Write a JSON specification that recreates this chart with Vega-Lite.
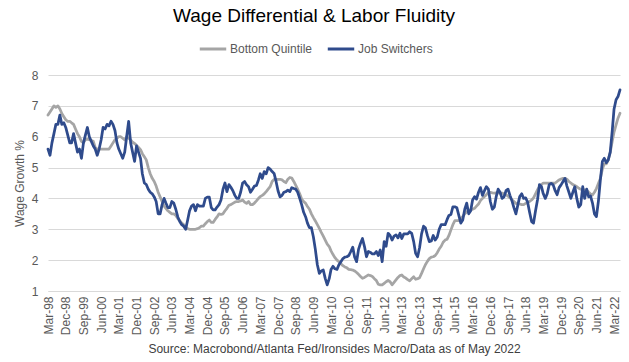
{
  "$schema": "https://vega.github.io/schema/vega-lite/v6.json",
  "width": 572,
  "height": 216,
  "autosize": {"type": "none"},
  "padding": {"left": 48, "top": 75, "right": 9, "bottom": 71},
  "background": "white",
  "config": {"font": "Liberation Sans", "view": {"stroke": null}},
  "title": {"text": "Wage Differential & Labor Fluidity", "fontSize": 19, "fontWeight": "normal", "color": "#000000", "anchor": "middle", "frame": "group", "dx": -20, "offset": 8},
  "data": {"values": [
    {"d":"1998-03","bq":6.7,"js":5.6},{"d":"1998-04","bq":6.8,"js":5.4},{"d":"1998-05","bq":6.9,"js":5.8},{"d":"1998-06","bq":7.0,"js":6.1},{"d":"1998-07","bq":6.95,"js":6.4},{"d":"1998-08","bq":7.0,"js":6.4},{"d":"1998-09","bq":6.9,"js":6.7},{"d":"1998-10","bq":6.75,"js":6.4},{"d":"1998-11","bq":6.65,"js":6.45},{"d":"1998-12","bq":6.55,"js":6.3},
    {"d":"1999-01","bq":6.5,"js":6.05},{"d":"1999-02","bq":6.5,"js":5.8},{"d":"1999-03","bq":6.45,"js":5.8},{"d":"1999-04","bq":6.4,"js":6.1},{"d":"1999-05","bq":6.25,"js":5.8},{"d":"1999-06","bq":6.1,"js":5.5},{"d":"1999-07","bq":6.0,"js":5.6},{"d":"1999-08","bq":5.85,"js":5.3},{"d":"1999-09","bq":5.8,"js":5.8},{"d":"1999-10","bq":5.9,"js":6.05},{"d":"1999-11","bq":5.92,"js":6.3},{"d":"1999-12","bq":5.9,"js":6.0},
    {"d":"2000-01","bq":5.88,"js":5.85},{"d":"2000-02","bq":5.85,"js":5.7},{"d":"2000-03","bq":5.65,"js":5.6},{"d":"2000-04","bq":5.6,"js":5.4},{"d":"2000-05","bq":5.6,"js":5.6},{"d":"2000-06","bq":5.6,"js":5.9},{"d":"2000-07","bq":5.6,"js":6.3},{"d":"2000-08","bq":5.6,"js":6.25},{"d":"2000-09","bq":5.6,"js":6.4},{"d":"2000-10","bq":5.6,"js":6.35},{"d":"2000-11","bq":5.7,"js":6.5},{"d":"2000-12","bq":5.8,"js":6.4},
    {"d":"2001-01","bq":5.9,"js":6.2},{"d":"2001-02","bq":5.95,"js":5.8},{"d":"2001-03","bq":6.0,"js":5.6},{"d":"2001-04","bq":6.0,"js":5.45},{"d":"2001-05","bq":5.95,"js":5.3},{"d":"2001-06","bq":5.9,"js":5.5},{"d":"2001-07","bq":6.0,"js":6.0},{"d":"2001-08","bq":5.95,"js":6.5},{"d":"2001-09","bq":5.9,"js":5.8},{"d":"2001-10","bq":5.82,"js":5.5},{"d":"2001-11","bq":5.78,"js":5.2},{"d":"2001-12","bq":5.72,"js":5.7},
    {"d":"2002-01","bq":5.65,"js":5.5},{"d":"2002-02","bq":5.58,"js":5.3},{"d":"2002-03","bq":5.45,"js":4.8},{"d":"2002-04","bq":5.35,"js":4.5},{"d":"2002-05","bq":5.25,"js":4.45},{"d":"2002-06","bq":5.0,"js":4.3},{"d":"2002-07","bq":4.8,"js":4.2},{"d":"2002-08","bq":4.65,"js":4.15},{"d":"2002-09","bq":4.55,"js":4.05},{"d":"2002-10","bq":4.4,"js":3.9},{"d":"2002-11","bq":4.2,"js":3.5},{"d":"2002-12","bq":4.05,"js":3.5},
    {"d":"2003-01","bq":3.9,"js":3.8},{"d":"2003-02","bq":3.75,"js":4.0},{"d":"2003-03","bq":3.68,"js":3.85},{"d":"2003-04","bq":3.6,"js":3.7},{"d":"2003-05","bq":3.55,"js":3.7},{"d":"2003-06","bq":3.5,"js":3.9},{"d":"2003-07","bq":3.5,"js":3.85},{"d":"2003-08","bq":3.45,"js":3.65},{"d":"2003-09","bq":3.35,"js":3.4},{"d":"2003-10","bq":3.28,"js":3.25},{"d":"2003-11","bq":3.2,"js":3.15},{"d":"2003-12","bq":3.15,"js":3.1},
    {"d":"2004-01","bq":3.08,"js":3.0},{"d":"2004-02","bq":3.02,"js":3.3},{"d":"2004-03","bq":3.0,"js":3.6},{"d":"2004-04","bq":3.0,"js":3.75},{"d":"2004-05","bq":3.0,"js":3.8},{"d":"2004-06","bq":3.0,"js":3.6},{"d":"2004-07","bq":3.02,"js":3.8},{"d":"2004-08","bq":3.05,"js":3.75},{"d":"2004-09","bq":3.1,"js":3.75},{"d":"2004-10","bq":3.1,"js":3.75},{"d":"2004-11","bq":3.18,"js":4.0},{"d":"2004-12","bq":3.25,"js":4.04},
    {"d":"2005-01","bq":3.3,"js":4.04},{"d":"2005-02","bq":3.22,"js":3.7},{"d":"2005-03","bq":3.22,"js":3.63},{"d":"2005-04","bq":3.32,"js":3.63},{"d":"2005-05","bq":3.4,"js":3.72},{"d":"2005-06","bq":3.5,"js":3.8},{"d":"2005-07","bq":3.48,"js":3.95},{"d":"2005-08","bq":3.5,"js":4.3},{"d":"2005-09","bq":3.6,"js":4.5},{"d":"2005-10","bq":3.68,"js":4.22},{"d":"2005-11","bq":3.78,"js":4.45},{"d":"2005-12","bq":3.8,"js":4.36},
    {"d":"2006-01","bq":3.84,"js":4.25},{"d":"2006-02","bq":3.88,"js":4.1},{"d":"2006-03","bq":3.9,"js":4.0},{"d":"2006-04","bq":3.9,"js":4.0},{"d":"2006-05","bq":3.92,"js":4.2},{"d":"2006-06","bq":3.95,"js":4.5},{"d":"2006-07","bq":3.88,"js":4.55},{"d":"2006-08","bq":3.84,"js":4.44},{"d":"2006-09","bq":3.9,"js":4.38},{"d":"2006-10","bq":3.8,"js":4.2},{"d":"2006-11","bq":3.8,"js":4.3},{"d":"2006-12","bq":3.85,"js":4.4},
    {"d":"2007-01","bq":3.92,"js":4.42},{"d":"2007-02","bq":4.0,"js":4.6},{"d":"2007-03","bq":4.06,"js":4.8},{"d":"2007-04","bq":4.1,"js":4.65},{"d":"2007-05","bq":4.15,"js":4.87},{"d":"2007-06","bq":4.22,"js":4.8},{"d":"2007-07","bq":4.3,"js":5.0},{"d":"2007-08","bq":4.38,"js":4.95},{"d":"2007-09","bq":4.55,"js":4.87},{"d":"2007-10","bq":4.62,"js":4.81},{"d":"2007-11","bq":4.62,"js":4.55},{"d":"2007-12","bq":4.62,"js":4.25},
    {"d":"2008-01","bq":4.62,"js":4.05},{"d":"2008-02","bq":4.6,"js":4.1},{"d":"2008-03","bq":4.55,"js":4.2},{"d":"2008-04","bq":4.51,"js":4.22},{"d":"2008-05","bq":4.62,"js":4.27},{"d":"2008-06","bq":4.68,"js":4.22},{"d":"2008-07","bq":4.66,"js":4.35},{"d":"2008-08","bq":4.55,"js":4.32},{"d":"2008-09","bq":4.42,"js":4.3},{"d":"2008-10","bq":4.3,"js":4.2},{"d":"2008-11","bq":4.15,"js":4.0},{"d":"2008-12","bq":3.98,"js":3.8},
    {"d":"2009-01","bq":3.9,"js":3.55},{"d":"2009-02","bq":3.84,"js":3.4},{"d":"2009-03","bq":3.74,"js":3.2},{"d":"2009-04","bq":3.65,"js":3.05},{"d":"2009-05","bq":3.5,"js":3.05},{"d":"2009-06","bq":3.38,"js":2.75},{"d":"2009-07","bq":3.27,"js":2.35},{"d":"2009-08","bq":3.15,"js":1.85},{"d":"2009-09","bq":3.03,"js":1.57},{"d":"2009-10","bq":2.9,"js":1.65},{"d":"2009-11","bq":2.78,"js":1.68},{"d":"2009-12","bq":2.65,"js":1.41},
    {"d":"2010-01","bq":2.52,"js":1.2},{"d":"2010-02","bq":2.44,"js":1.4},{"d":"2010-03","bq":2.3,"js":1.7},{"d":"2010-04","bq":2.18,"js":1.8},{"d":"2010-05","bq":2.08,"js":1.72},{"d":"2010-06","bq":2.0,"js":1.7},{"d":"2010-07","bq":1.95,"js":1.85},{"d":"2010-08","bq":1.88,"js":1.95},{"d":"2010-09","bq":1.82,"js":2.05},{"d":"2010-10","bq":1.78,"js":2.1},{"d":"2010-11","bq":1.75,"js":2.11},{"d":"2010-12","bq":1.7,"js":2.15},
    {"d":"2011-01","bq":1.69,"js":2.28},{"d":"2011-02","bq":1.68,"js":2.42},{"d":"2011-03","bq":1.65,"js":2.1},{"d":"2011-04","bq":1.6,"js":1.95},{"d":"2011-05","bq":1.54,"js":2.35},{"d":"2011-06","bq":1.47,"js":2.55},{"d":"2011-07","bq":1.41,"js":2.7},{"d":"2011-08","bq":1.44,"js":2.44},{"d":"2011-09","bq":1.48,"js":2.11},{"d":"2011-10","bq":1.52,"js":2.28},{"d":"2011-11","bq":1.5,"js":2.25},{"d":"2011-12","bq":1.47,"js":2.2},
    {"d":"2012-01","bq":1.4,"js":2.2},{"d":"2012-02","bq":1.34,"js":2.28},{"d":"2012-03","bq":1.22,"js":2.15},{"d":"2012-04","bq":1.2,"js":2.33},{"d":"2012-05","bq":1.2,"js":1.95},{"d":"2012-06","bq":1.25,"js":2.6},{"d":"2012-07","bq":1.3,"js":2.45},{"d":"2012-08","bq":1.34,"js":2.87},{"d":"2012-09","bq":1.3,"js":2.8},{"d":"2012-10","bq":1.2,"js":2.65},{"d":"2012-11","bq":1.28,"js":2.78},{"d":"2012-12","bq":1.36,"js":2.82},
    {"d":"2013-01","bq":1.44,"js":2.72},{"d":"2013-02","bq":1.5,"js":2.87},{"d":"2013-03","bq":1.52,"js":2.7},{"d":"2013-04","bq":1.45,"js":2.85},{"d":"2013-05","bq":1.42,"js":2.85},{"d":"2013-06","bq":1.37,"js":2.85},{"d":"2013-07","bq":1.33,"js":2.92},{"d":"2013-08","bq":1.4,"js":2.87},{"d":"2013-09","bq":1.46,"js":2.6},{"d":"2013-10","bq":1.38,"js":2.22},{"d":"2013-11","bq":1.4,"js":2.11},{"d":"2013-12","bq":1.43,"js":2.4},
    {"d":"2014-01","bq":1.57,"js":2.85},{"d":"2014-02","bq":1.72,"js":3.1},{"d":"2014-03","bq":1.85,"js":3.05},{"d":"2014-04","bq":1.96,"js":2.8},{"d":"2014-05","bq":2.05,"js":2.6},{"d":"2014-06","bq":2.1,"js":2.62},{"d":"2014-07","bq":2.11,"js":2.8},{"d":"2014-08","bq":2.15,"js":2.65},{"d":"2014-09","bq":2.24,"js":2.75},{"d":"2014-10","bq":2.36,"js":3.0},{"d":"2014-11","bq":2.45,"js":3.15},{"d":"2014-12","bq":2.58,"js":3.15},
    {"d":"2015-01","bq":2.65,"js":3.15},{"d":"2015-02","bq":2.68,"js":3.32},{"d":"2015-03","bq":2.8,"js":3.45},{"d":"2015-04","bq":2.98,"js":3.48},{"d":"2015-05","bq":3.15,"js":3.73},{"d":"2015-06","bq":3.28,"js":3.73},{"d":"2015-07","bq":3.28,"js":3.7},{"d":"2015-08","bq":3.28,"js":3.45},{"d":"2015-09","bq":3.35,"js":3.2},{"d":"2015-10","bq":3.42,"js":3.3},{"d":"2015-11","bq":3.5,"js":3.65},{"d":"2015-12","bq":3.56,"js":3.85},
    {"d":"2016-01","bq":3.6,"js":3.5},{"d":"2016-02","bq":3.63,"js":3.6},{"d":"2016-03","bq":3.65,"js":3.95},{"d":"2016-04","bq":3.68,"js":4.06},{"d":"2016-05","bq":3.75,"js":3.98},{"d":"2016-06","bq":3.82,"js":4.2},{"d":"2016-07","bq":3.93,"js":4.35},{"d":"2016-08","bq":4.0,"js":4.1},{"d":"2016-09","bq":4.06,"js":4.25},{"d":"2016-10","bq":4.12,"js":4.38},{"d":"2016-11","bq":4.2,"js":4.3},{"d":"2016-12","bq":4.2,"js":3.9},
    {"d":"2017-01","bq":4.18,"js":3.65},{"d":"2017-02","bq":4.17,"js":3.72},{"d":"2017-03","bq":4.18,"js":4.05},{"d":"2017-04","bq":4.18,"js":4.3},{"d":"2017-05","bq":4.17,"js":4.2},{"d":"2017-06","bq":4.17,"js":4.0},{"d":"2017-07","bq":4.15,"js":4.05},{"d":"2017-08","bq":4.12,"js":4.25},{"d":"2017-09","bq":4.07,"js":4.3},{"d":"2017-10","bq":4.02,"js":4.1},{"d":"2017-11","bq":3.96,"js":3.92},{"d":"2017-12","bq":3.9,"js":3.7},
    {"d":"2018-01","bq":3.84,"js":3.5},{"d":"2018-02","bq":3.83,"js":3.8},{"d":"2018-03","bq":3.82,"js":4.06},{"d":"2018-04","bq":3.8,"js":4.15},{"d":"2018-05","bq":3.8,"js":4.0},{"d":"2018-06","bq":3.84,"js":4.02},{"d":"2018-07","bq":3.87,"js":3.88},{"d":"2018-08","bq":3.9,"js":3.55},{"d":"2018-09","bq":3.95,"js":3.25},{"d":"2018-10","bq":4.02,"js":3.2},{"d":"2018-11","bq":4.15,"js":3.6},{"d":"2018-12","bq":4.28,"js":3.95},
    {"d":"2019-01","bq":4.38,"js":4.45},{"d":"2019-02","bq":4.45,"js":4.38},{"d":"2019-03","bq":4.5,"js":4.15},{"d":"2019-04","bq":4.5,"js":4.0},{"d":"2019-05","bq":4.5,"js":4.15},{"d":"2019-06","bq":4.5,"js":4.45},{"d":"2019-07","bq":4.5,"js":4.49},{"d":"2019-08","bq":4.5,"js":4.44},{"d":"2019-09","bq":4.5,"js":4.25},{"d":"2019-10","bq":4.55,"js":4.12},{"d":"2019-11","bq":4.6,"js":4.35},{"d":"2019-12","bq":4.63,"js":4.44},
    {"d":"2020-01","bq":4.65,"js":4.55},{"d":"2020-02","bq":4.65,"js":4.65},{"d":"2020-03","bq":4.62,"js":4.4},{"d":"2020-04","bq":4.55,"js":4.2},{"d":"2020-05","bq":4.5,"js":4.0},{"d":"2020-06","bq":4.45,"js":4.2},{"d":"2020-07","bq":4.42,"js":4.38},{"d":"2020-08","bq":4.38,"js":4.0},{"d":"2020-09","bq":4.33,"js":3.72},{"d":"2020-10","bq":4.3,"js":3.8},{"d":"2020-11","bq":4.28,"js":4.38},{"d":"2020-12","bq":4.28,"js":4.0},
    {"d":"2021-01","bq":4.27,"js":4.3},{"d":"2021-02","bq":4.2,"js":4.05},{"d":"2021-03","bq":4.15,"js":4.08},{"d":"2021-04","bq":4.11,"js":3.85},{"d":"2021-05","bq":4.2,"js":3.5},{"d":"2021-06","bq":4.32,"js":3.41},{"d":"2021-07","bq":4.48,"js":3.9},{"d":"2021-08","bq":4.65,"js":4.6},{"d":"2021-09","bq":4.95,"js":5.2},{"d":"2021-10","bq":5.12,"js":5.3},{"d":"2021-11","bq":5.12,"js":5.16},{"d":"2021-12","bq":5.25,"js":5.25},
    {"d":"2022-01","bq":5.5,"js":5.5},{"d":"2022-02","bq":5.85,"js":6.2},{"d":"2022-03","bq":6.15,"js":6.9},{"d":"2022-04","bq":6.38,"js":7.2},{"d":"2022-05","bq":6.6,"js":7.3},{"d":"2022-06","bq":6.76,"js":7.52}
  ]},
  "transform": [{"fold": ["bq", "js"], "as": ["s", "v"]}],
  "mark": {"type": "line", "strokeWidth": 2.75, "strokeJoin": "round", "strokeCap": "round"},
  "encoding": {
    "x": {
      "field": "d", "type": "temporal",
      "scale": {"type": "utc", "domain": [{"year": 1998, "month": 3, "date": 1, "utc": true}, {"year": 2022, "month": 6, "date": 1, "utc": true}]},
      "axis": {
        "values": [
          {"year":1998,"month":3,"date":1,"utc":true},{"year":1998,"month":12,"date":1,"utc":true},{"year":1999,"month":9,"date":1,"utc":true},{"year":2000,"month":6,"date":1,"utc":true},
          {"year":2001,"month":3,"date":1,"utc":true},{"year":2001,"month":12,"date":1,"utc":true},{"year":2002,"month":9,"date":1,"utc":true},{"year":2003,"month":6,"date":1,"utc":true},
          {"year":2004,"month":3,"date":1,"utc":true},{"year":2004,"month":12,"date":1,"utc":true},{"year":2005,"month":9,"date":1,"utc":true},{"year":2006,"month":6,"date":1,"utc":true},
          {"year":2007,"month":3,"date":1,"utc":true},{"year":2007,"month":12,"date":1,"utc":true},{"year":2008,"month":9,"date":1,"utc":true},{"year":2009,"month":6,"date":1,"utc":true},
          {"year":2010,"month":3,"date":1,"utc":true},{"year":2010,"month":12,"date":1,"utc":true},{"year":2011,"month":9,"date":1,"utc":true},{"year":2012,"month":6,"date":1,"utc":true},
          {"year":2013,"month":3,"date":1,"utc":true},{"year":2013,"month":12,"date":1,"utc":true},{"year":2014,"month":9,"date":1,"utc":true},{"year":2015,"month":6,"date":1,"utc":true},
          {"year":2016,"month":3,"date":1,"utc":true},{"year":2016,"month":12,"date":1,"utc":true},{"year":2017,"month":9,"date":1,"utc":true},{"year":2018,"month":6,"date":1,"utc":true},
          {"year":2019,"month":3,"date":1,"utc":true},{"year":2019,"month":12,"date":1,"utc":true},{"year":2020,"month":9,"date":1,"utc":true},{"year":2021,"month":6,"date":1,"utc":true},
          {"year":2022,"month":3,"date":1,"utc":true}
        ],
        "format": "%b-%y",
        "labelAngle": 270,
        "labelColor": "#595959",
        "labelFontSize": 12,
        "labelPadding": 5,
        "labelOverlap": false,
        "labelFlush": false,
        "ticks": false,
        "grid": false,
        "domainColor": "#D9D9D9",
        "title": "Source: Macrobond/Atlanta Fed/Ironsides Macro/Data as of May 2022",
        "titleFontSize": 12,
        "titleFontWeight": "normal",
        "titleColor": "#404040",
        "titlePadding": 9
      }
    },
    "y": {
      "field": "v", "type": "quantitative",
      "scale": {"domain": [1, 8]},
      "axis": {
        "values": [1, 2, 3, 4, 5, 6, 7, 8],
        "title": "Wage Growth %",
        "titleFontSize": 12,
        "titleFontWeight": "normal",
        "titleColor": "#595959",
        "labelColor": "#595959",
        "labelFontSize": 12,
        "labelPadding": 10,
        "ticks": false,
        "domain": false,
        "gridColor": "#D9D9D9",
        "titlePadding": 5
      }
    },
    "color": {
      "field": "s", "type": "nominal",
      "scale": {"domain": ["bq", "js"], "range": ["#A5A5A5", "#2F4B8C"]},
      "legend": {
        "orient": "none",
        "legendX": 150,
        "legendY": -41,
        "direction": "horizontal",
        "title": null,
        "symbolType": "stroke",
        "symbolStrokeWidth": 3,
        "symbolSize": 700,
        "labelFontSize": 12,
        "labelColor": "#595959",
        "labelOffset": 2,
        "columnPadding": 8,
        "labelExpr": "datum.label == 'bq' ? 'Bottom Quintile' : 'Job Switchers'"
      }
    }
  }
}
